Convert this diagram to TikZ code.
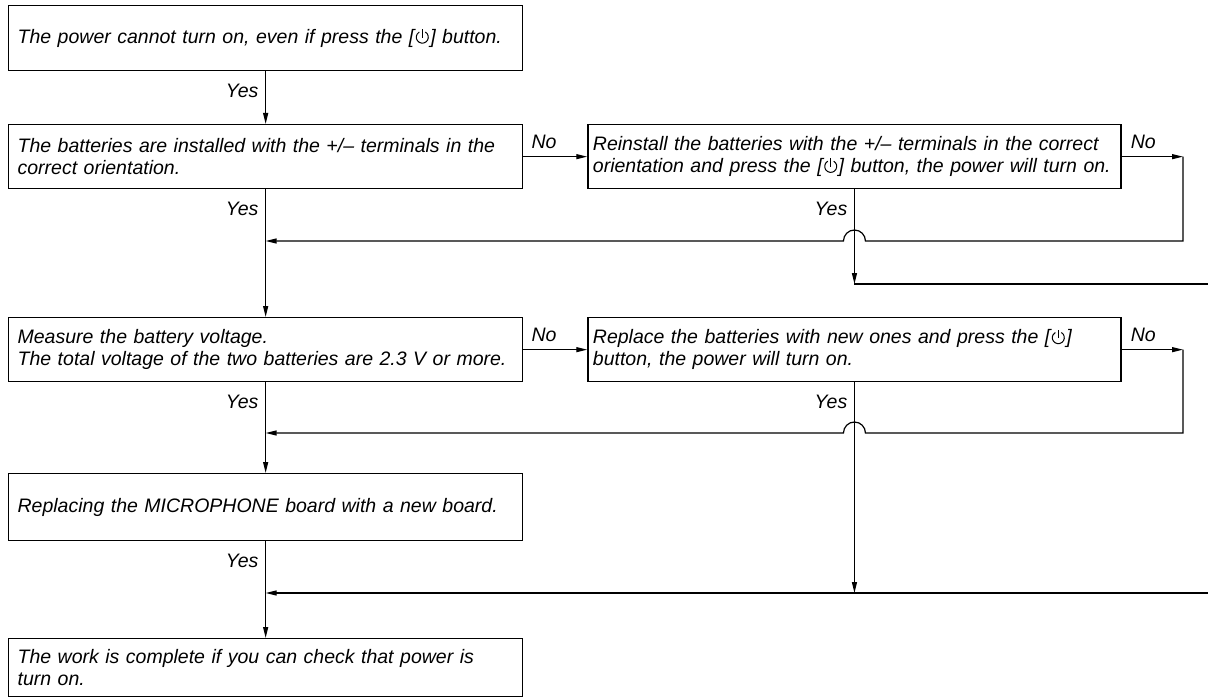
\documentclass[tikz,border=0pt]{standalone}
\usepackage{fontspec}
\setmainfont{Liberation Sans}
\usetikzlibrary{arrows.meta,positioning}
\newcommand{\pwrbtn}{\kern0.6pt\tikz[baseline=0pt,x=1pt,y=1pt,line width=1pt]{%
  \draw (0,6.3)+(60:6) arc[start angle=60,end angle=-240,radius=6];
  \draw (0,5.8) -- (0,14.2);}\kern0.6pt}

\begin{document}
\begin{tikzpicture}[
      x=1pt,y=-1pt,
      check/.style={draw,line width=1.3pt,anchor=north west,inner xsep=9pt,
                    text width=496pt,align=left,font=\fontsize{19.5}{22}\selectfont\itshape},
      fix/.style={draw,line width=1.3pt,inner xsep=5pt,text width=523pt,
                  align=left,font=\fontsize{19.5}{22}\selectfont\itshape},
      lbl/.style={inner sep=0pt,font=\fontsize{19.5}{22}\selectfont\itshape},
      arrow/.style={-{Triangle[length=11pt,width=5pt]},line width=1.2pt},
      wire/.style={line width=1.2pt}
  ]
    \useasboundingbox (0,0) rectangle (1208,698);

    \node[check,minimum height=65pt] (power) at (8,5) {The power cannot turn on, even if press the [\pwrbtn] button.};
    \node[check,minimum height=64pt] (batt) at (8,124) {The batteries are installed with the +/– terminals in the\\ correct orientation.};
    \node[fix,minimum height=64pt,right=64pt of batt] (reinst) {Reinstall the batteries with the +/– terminals in the correct\\ orientation and press the [\pwrbtn] button, the power will turn on.};
    \node[check,minimum height=64pt] (volt) at (8,317) {Measure the battery voltage.\\ The total voltage of the two batteries are 2.3 V or more.};
    \node[fix,minimum height=64pt,right=64pt of volt] (replace) {Replace the batteries with new ones and press the [\pwrbtn]\\ button, the power will turn on.};
    \node[check,minimum height=67pt] (mic) at (8,473) {Replacing the MICROPHONE board with a new board.};
    \node[check,minimum height=58pt] (done) at (8,638) {The work is complete if you can check that power is\\ turn on.};

    \coordinate (rx) at (1183,0);
    \coordinate (ex) at (1208,0);
    \coordinate (h1) at (0,241);
    \coordinate (h2) at (0,284);
    \coordinate (h3) at (0,433);
    \coordinate (h4) at (0,593);

    \node[lbl,anchor=east] (yes1) at ([xshift=-7pt,yshift=-20pt]power.south) {Yes};
    \node[lbl,anchor=east] (yes2) at ([xshift=-7pt,yshift=-20pt]batt.south) {Yes};
    \node[lbl,anchor=east] (yes3) at ([xshift=-7pt,yshift=-20pt]reinst.south) {Yes};
    \node[lbl,anchor=east] (yes4) at ([xshift=-7pt,yshift=-20pt]volt.south) {Yes};
    \node[lbl,anchor=east] (yes5) at ([xshift=-7pt,yshift=-20pt]replace.south) {Yes};
    \node[lbl,anchor=east] (yes6) at ([xshift=-7pt,yshift=-20pt]mic.south) {Yes};
    \node[lbl,anchor=base west] (no1) at ([xshift=8pt,yshift=8pt]batt.east) {No};
    \node[lbl,anchor=base west] (no2) at ([xshift=9pt,yshift=8pt]reinst.east) {No};
    \node[lbl,anchor=base west] (no3) at ([xshift=8pt,yshift=8pt]volt.east) {No};
    \node[lbl,anchor=base west] (no4) at ([xshift=9pt,yshift=8pt]replace.east) {No};

    \draw[arrow] (power) -- (batt);
    \draw[arrow] (batt) -- (reinst);
    \draw[arrow] (reinst.east) -- (reinst.east -| rx);
    \draw[arrow] (reinst.east -| rx) |- ([xshift=11pt]reinst.south |- h1)
        arc[start angle=0,end angle=-180,radius=11] -- (batt.south |- h1);
    \draw[arrow] (reinst) -- (reinst.south |- h2);
    \draw[wire] (reinst.south |- h2) -- (ex |- h2);
    \draw[arrow] (batt) -- (volt);
    \draw[arrow] (volt) -- (replace);
    \draw[arrow] (replace.east) -- (replace.east -| rx);
    \draw[arrow] (replace.east -| rx) |- ([xshift=11pt]replace.south |- h3)
        arc[start angle=0,end angle=-180,radius=11] -- (volt.south |- h3);
    \draw[arrow] (replace) -- (replace.south |- h4);
    \draw[arrow] (ex |- h4) -- (mic.south |- h4);
    \draw[arrow] (volt) -- (mic);
    \draw[arrow] (mic) -- (done);
  \end{tikzpicture}
\end{document}
